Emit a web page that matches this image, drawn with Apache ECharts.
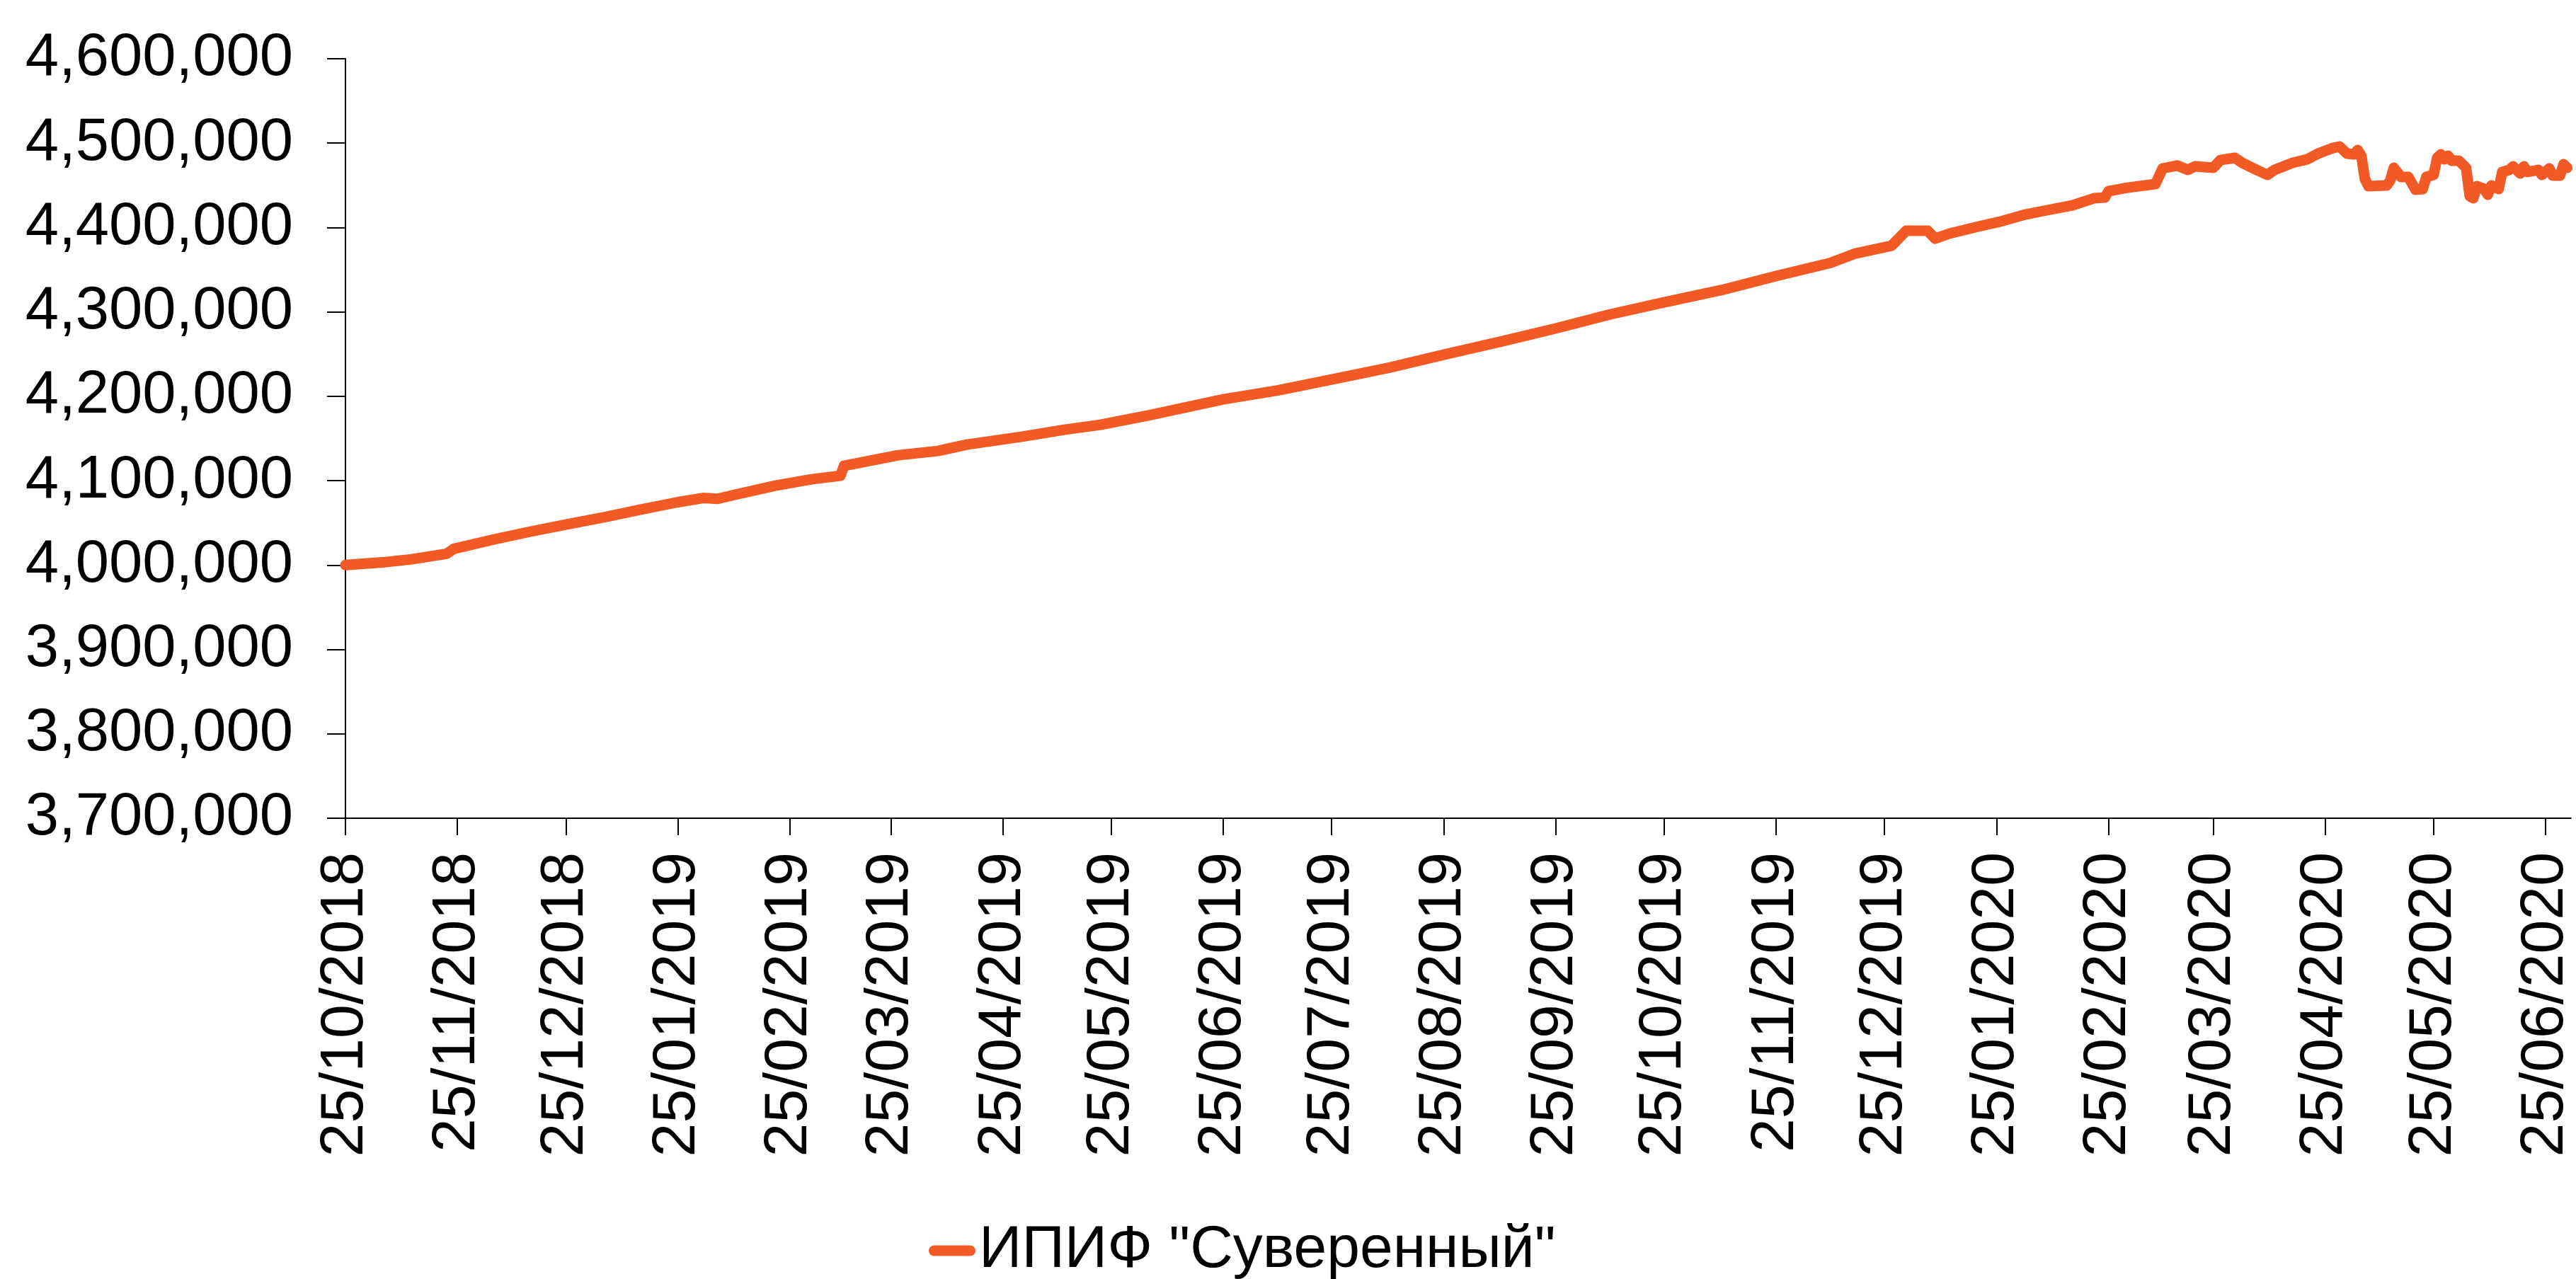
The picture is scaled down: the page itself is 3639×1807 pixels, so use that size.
<!DOCTYPE html>
<html>
<head>
<meta charset="utf-8">
<script src="https://cdn.jsdelivr.net/npm/echarts@6/dist/echarts.min.js"></script>
<style>
html,body{margin:0;padding:0;background:#fff;}
#chart{width:3639px;height:1807px;}
</style>
</head>
<body>
<div id="chart"></div>
<script>
// ---- data ----
const seriesName = 'ИПИФ "Суверенный"';
const dates = [
 '2018-10-25','2018-11-05','2018-11-12','2018-11-22','2018-11-24','2018-12-05','2018-12-15','2018-12-25',
 '2019-01-05','2019-01-15','2019-01-25','2019-02-01','2019-02-05','2019-02-10','2019-02-21','2019-03-03',
 '2019-03-11','2019-03-12','2019-03-27','2019-04-07','2019-04-15','2019-04-30','2019-05-12','2019-05-22',
 '2019-06-05','2019-06-25','2019-07-10','2019-07-25','2019-08-10','2019-08-25','2019-09-10','2019-09-25',
 '2019-10-10','2019-10-25','2019-11-10','2019-11-25','2019-12-10','2019-12-17','2019-12-27','2019-12-31',
 '2020-01-06','2020-01-08','2020-01-12','2020-01-20','2020-01-26','2020-02-02','2020-02-08','2020-02-15',
 '2020-02-21','2020-02-24','2020-02-25','2020-03-01','2020-03-09','2020-03-11','2020-03-15','2020-03-18',
 '2020-03-20','2020-03-25','2020-03-27','2020-03-31','2020-04-02','2020-04-06','2020-04-09','2020-04-11',
 '2020-04-16','2020-04-20','2020-04-23','2020-04-27','2020-04-29','2020-05-01','2020-05-03','2020-05-04',
 '2020-05-05','2020-05-06','2020-05-07','2020-05-12','2020-05-13','2020-05-14','2020-05-16','2020-05-18',
 '2020-05-20','2020-05-22','2020-05-23','2020-05-25','2020-05-26','2020-05-27','2020-05-28','2020-05-29',
 '2020-05-30','2020-06-01','2020-06-03','2020-06-04','2020-06-05','2020-06-06','2020-06-08','2020-06-09',
 '2020-06-10','2020-06-12','2020-06-13','2020-06-15','2020-06-16','2020-06-18','2020-06-19','2020-06-20',
 '2020-06-23','2020-06-24','2020-06-26','2020-06-27','2020-06-29','2020-06-30','2020-07-01'
];
const values = [
 4000000,4003500,4006700,4013400,4019300,4030300,4039500,4048000,
 4057000,4066000,4074500,4079500,4078500,4083500,4094100,4101700,
 4105900,4117600,4130200,4135200,4142800,4152000,4160400,4166300,
 4178000,4196500,4207000,4220000,4234000,4249300,4265000,4280400,
 4297000,4311400,4326000,4342500,4358000,4369300,4378500,4396100,
 4396100,4386900,4392800,4401200,4407000,4415400,4420500,4426300,
 4434700,4435500,4443100,4447000,4451500,4470000,4473500,4468300,
 4472500,4470800,4480000,4482600,4476700,4468300,4462400,4468300,
 4476700,4480800,4487600,4494000,4496000,4487600,4486700,4491800,
 4485100,4457400,4449000,4449800,4455700,4470800,4459900,4459900,
 4444800,4445600,4459900,4462400,4482600,4486700,4480800,4485100,
 4479200,4479200,4470800,4437300,4434700,4449000,4445600,4438900,
 4449800,4445600,4465800,4468300,4472500,4464100,4472500,4465800,
 4468300,4462400,4470000,4461600,4461600,4475000,4470800
];
const tickDates = [
 '2018-10-25','2018-11-25','2018-12-25','2019-01-25','2019-02-25','2019-03-25','2019-04-25','2019-05-25',
 '2019-06-25','2019-07-25','2019-08-25','2019-09-25','2019-10-25','2019-11-25','2019-12-25','2020-01-25',
 '2020-02-25','2020-03-25','2020-04-25','2020-05-25','2020-06-25'
];
const xMinDate = '2018-10-25';
const xMaxDate = '2020-07-02';
const yMin = 3700000, yMax = 4600000, yStep = 100000;

// ---- helpers ----
function toTs(s){ const p = s.split('-').map(Number); return Date.UTC(p[0], p[1]-1, p[2]); }
function pad(n){ return (n<10?'0':'')+n; }
function fmtDate(v){ const d = new Date(v); return pad(d.getUTCDate())+'/'+pad(d.getUTCMonth()+1)+'/'+d.getUTCFullYear(); }
function fmtNum(v){ return String(Math.round(v)).replace(/\B(?=(\d{3})+(?!\d))/g, ','); }

const seriesData = dates.map((d,i)=>[toTs(d), values[i]]);
const ticks = tickDates.map(toTs);

const FONT = '"Liberation Sans", Arial, sans-serif';
const LINE_COLOR = '#F15A24';

const chart = echarts.init(document.getElementById('chart'), null, {renderer:'canvas'});
chart.setOption({
  animation: false,
  backgroundColor: '#ffffff',
  grid: { left: 488, right: 0, top: 83, bottom: 651, containLabel: false },
  legend: {
    show: true,
    left: 1307,
    top: 1720,
    itemWidth: 66,
    itemHeight: 15,
    data: [{ name: seriesName, icon: 'path://M7.5,0 H58.5 A7.5,7.5 0 0 1 58.5,15 H7.5 A7.5,7.5 0 0 1 7.5,0 Z' }],
    textStyle: { fontFamily: FONT, fontSize: 84, color: '#000', lineHeight: 84 }
  },
  xAxis: {
    type: 'value',
    min: toTs(xMinDate),
    max: toTs(xMaxDate),
    axisLine: { show: true, onZero: false, lineStyle: { color: '#000', width: 2 } },
    axisTick: { show: true, length: 24, lineStyle: { color: '#000', width: 2 }, customValues: ticks },
    axisLabel: {
      show: true, rotate: 90, margin: 48, customValues: ticks,
      fontFamily: FONT, fontSize: 86, color: '#000',
      formatter: fmtDate, hideOverlap: false, showMinLabel: true, showMaxLabel: true
    },
    splitLine: { show: false }
  },
  yAxis: {
    type: 'value',
    min: yMin, max: yMax, interval: yStep,
    axisLine: { show: true, lineStyle: { color: '#000', width: 2 } },
    axisTick: { show: true, length: 26, lineStyle: { color: '#000', width: 2 } },
    axisLabel: { show: true, margin: 74, fontFamily: FONT, fontSize: 85, color: '#000', formatter: fmtNum },
    splitLine: { show: false }
  },
  series: [{
    name: seriesName,
    type: 'line',
    data: seriesData,
    showSymbol: false,
    symbol: 'none',
    smooth: false,
    color: LINE_COLOR,
    lineStyle: { color: LINE_COLOR, width: 15, cap: 'round', join: 'round' },
    itemStyle: { color: LINE_COLOR }
  }]
});
</script>
</body>
</html>
